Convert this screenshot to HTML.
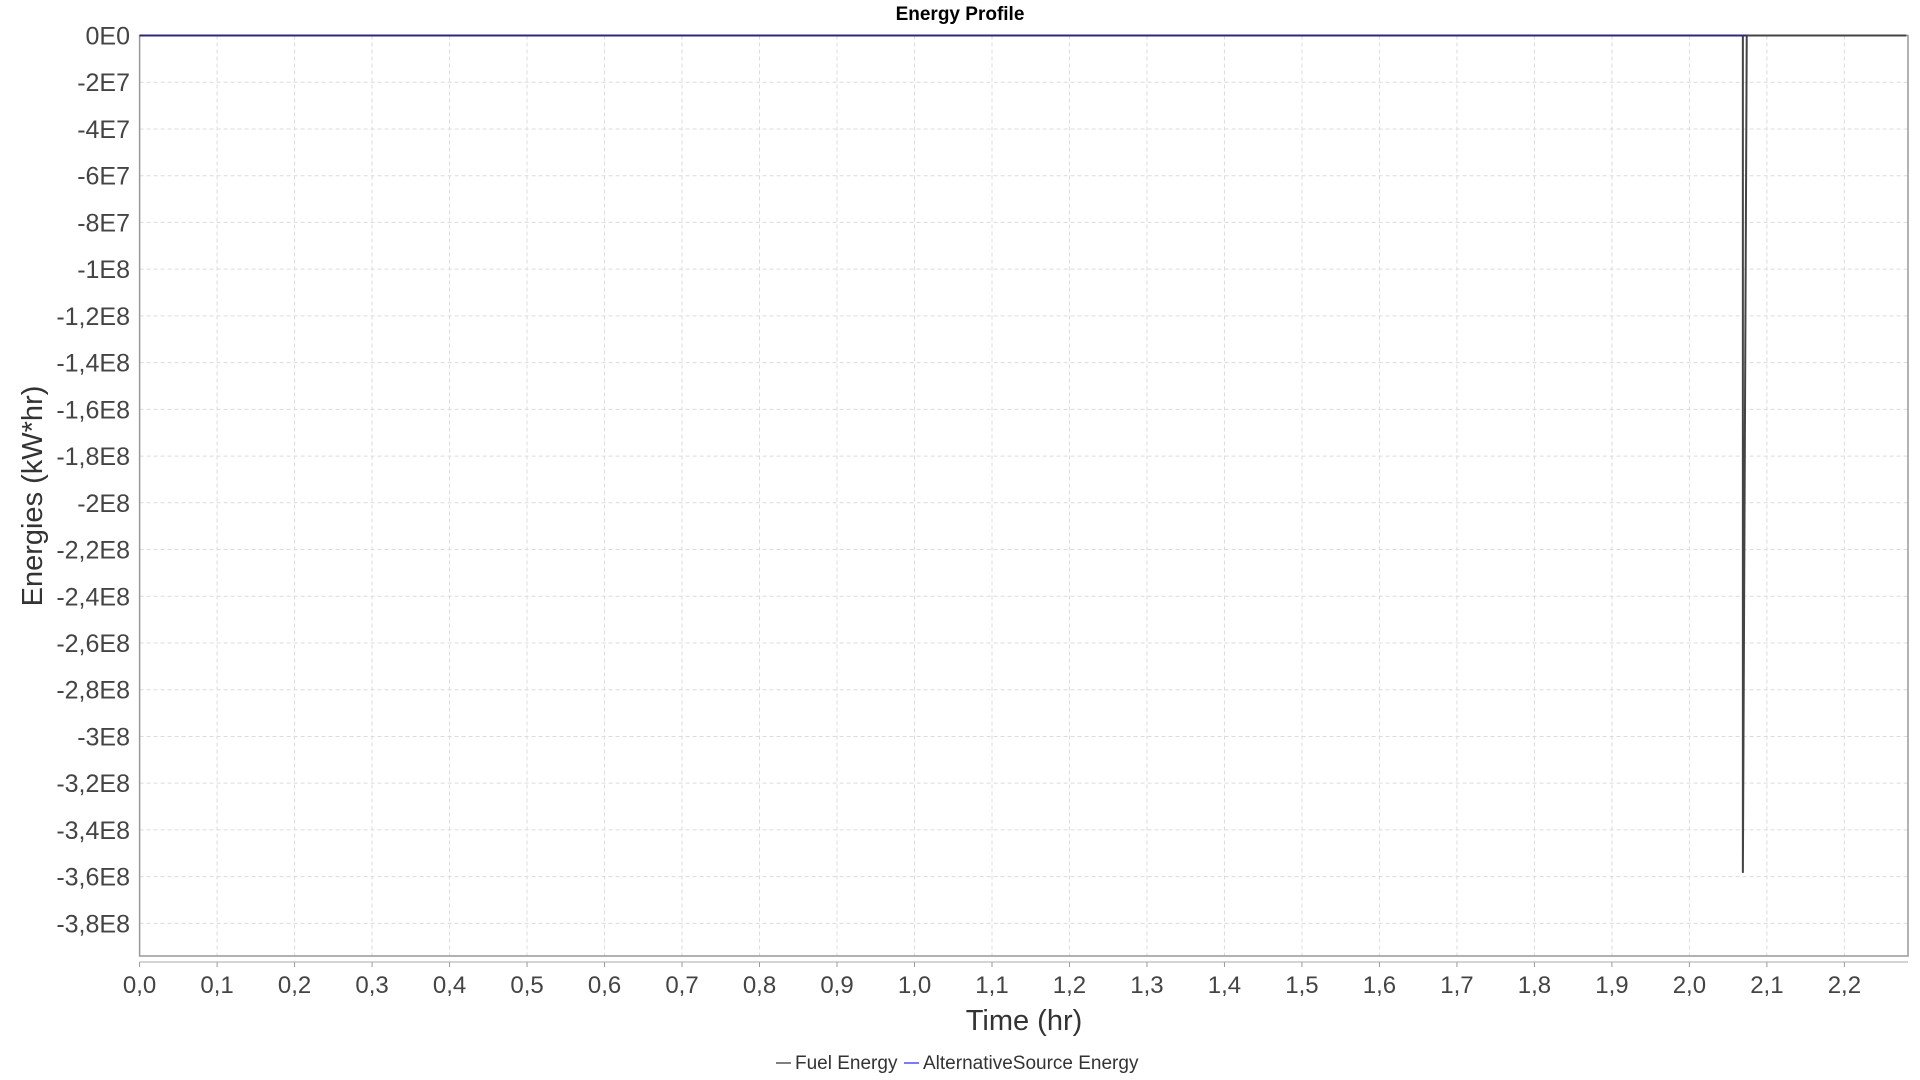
<!DOCTYPE html>
<html><head><meta charset="utf-8"><style>
html,body{margin:0;padding:0;background:#fff;}
svg{display:block;font-family:"Liberation Sans",sans-serif;}
</style></head><body>
<svg id="chart" width="1920" height="1080">
<text x="960" y="20" text-anchor="middle" font-size="19" font-weight="bold">Energy Profile</text>
<g id="grid"></g>
<g id="axes"></g>
<g id="series"></g>
<text x="1024" y="1030" text-anchor="middle" font-size="29" fill="#333">Time (hr)</text>
<text transform="translate(42,496) rotate(-90)" text-anchor="middle" font-size="29" fill="#333">Energies (kW*hr)</text>
<g>
<g><line x1="776" y1="1063" x2="791" y2="1063" stroke="#808080" stroke-width="2"/><text x="795" y="1069" font-size="19" fill="#333">Fuel Energy</text></g>
<g><line x1="904" y1="1063" x2="919" y2="1063" stroke="#7b7bff" stroke-width="2"/><text x="923" y="1069" font-size="19" fill="#333">AlternativeSource Energy</text></g>
</g>
</svg>
<script>
const xTicks=[0,0.1,0.2,0.3,0.4,0.5,0.6,0.7,0.8,0.9,1.0,1.1,1.2,1.3,1.4,1.5,1.6,1.7,1.8,1.9,2.0,2.1,2.2];
const yTicks=[0,-2e7,-4e7,-6e7,-8e7,-1e8,-1.2e8,-1.4e8,-1.6e8,-1.8e8,-2e8,-2.2e8,-2.4e8,-2.6e8,-2.8e8,-3e8,-3.2e8,-3.4e8,-3.6e8,-3.8e8];
const yTickLabels=["0E0","-2E7","-4E7","-6E7","-8E7","-1E8","-1,2E8","-1,4E8","-1,6E8","-1,8E8","-2E8","-2,2E8","-2,4E8","-2,6E8","-2,8E8","-3E8","-3,2E8","-3,4E8","-3,6E8","-3,8E8"];
const fuelX=[0,2.0,2.069,2.069,2.069,2.074,2.28];
const fuelY=[0,0,0,-4e7,-3.584e8,0,0];
const altX=[0,2.074];
const altY=[0,0];
const L=139.6,R=1908,T=35.5,B=956;
const X0=0,XS=774.9;
const YS=46.73/2e7;
const xs=v=>L+(v-X0)*XS;
const ys=v=>T-v*YS;
const NS="http://www.w3.org/2000/svg";
function mk(tag,attrs,parent){const e=document.createElementNS(NS,tag);for(const k in attrs)e.setAttribute(k,attrs[k]);parent.appendChild(e);return e;}
const grid=document.getElementById('grid'),axes=document.getElementById('axes'),ser=document.getElementById('series');
xTicks.forEach(t=>{
  const x=xs(t);
  const g=mk('line',{x1:x,x2:x,y1:T,y2:B,stroke:'#dcdcdc','stroke-dasharray':'4,3'},grid);
  
  
  mk('line',{x1:x,x2:x,y1:962,y2:967,stroke:'#999'},axes);
  const lb=mk('text',{x:x,y:993,'text-anchor':'middle','font-size':'24',fill:'#444'},axes);
  lb.textContent=t.toFixed(1).replace('.',',');
  
  
});
yTicks.forEach((t,i)=>{
  const y=ys(t);
  const g=mk('line',{x1:L,x2:R,y1:y,y2:y,stroke:'#dcdcdc','stroke-dasharray':'4,3'},grid);
  
  
  const lb=mk('text',{x:130,y:y+9,'text-anchor':'end','font-size':'25',fill:'#444'},axes);
  lb.textContent=yTickLabels[i];
  
  
});
const frame=mk('rect',{x:L,y:T,width:R-L,height:B-T,fill:'none',stroke:'#999','stroke-width':1.5},axes);


const xl=mk('line',{x1:L,x2:R,y1:962,y2:962,stroke:'#aaa'},axes);


function path(xa,ya,color,name){
  const d=xa.map((v,i)=>(i?'L':'M')+Math.min(xs(v),R)+','+ys(ya[i])).join(' ');
  const p=mk('path',{d:d,fill:'none',stroke:color,'stroke-width':2},ser);
  
  
}
path(fuelX,fuelY,'#444','fuel-energy-line');
path(altX,altY,'#2a2a7a','alternative-source-energy-line');
</script>
</body></html>
